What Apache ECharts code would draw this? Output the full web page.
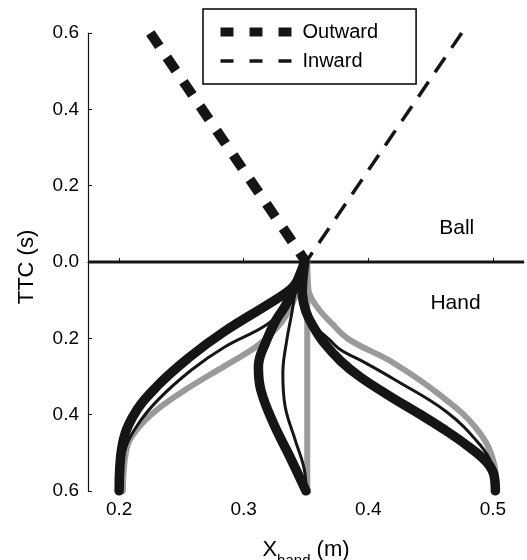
<!DOCTYPE html>
<html><head><meta charset="utf-8">
<script src="https://cdn.jsdelivr.net/npm/echarts@6/dist/echarts.min.js"></script>
<style>html,body{margin:0;padding:0;background:#fff}#c{width:527px;height:560px}</style>
</head><body><div id="c"></div>
<script>
// tick values
const xTicks = [0.2, 0.3, 0.4, 0.5];
const yTicks = [-0.6, -0.4, -0.2, 0, 0.2, 0.4, 0.6];

// ball approach lines [x, TTC]  (positive = ball, above zero)
const ballOutward = [[0.225, 0.6], [0.35, 0]];
const ballInward  = [[0.475, 0.6], [0.35, 0]];
const zeroLine = [[0.175, 0], [0.525, 0]];

// hand trajectories [x, -TTC]
const leftThick = [[0.349,0],[0.343,-0.05],[0.337,-0.073],[0.321,-0.108],[0.284,-0.183],[0.257,-0.248],[0.230,-0.327],[0.211,-0.405],[0.202,-0.49],[0.200,-0.6]];
const leftThin  = [[0.349,0],[0.340,-0.07],[0.332,-0.12],[0.318,-0.165],[0.285,-0.222],[0.258,-0.283],[0.231,-0.362],[0.214,-0.431],[0.204,-0.5],[0.200,-0.6]];
const leftGray  = [[0.350,0],[0.344,-0.07],[0.334,-0.14],[0.323,-0.185],[0.310,-0.222],[0.284,-0.274],[0.257,-0.327],[0.230,-0.388],[0.214,-0.44],[0.206,-0.49],[0.203,-0.6]];
const midThick  = [[0.349,0],[0.340,-0.073],[0.333,-0.117],[0.326,-0.152],[0.3185,-0.204],[0.3118,-0.274],[0.3137,-0.335],[0.3239,-0.423],[0.337,-0.51],[0.350,-0.6]];
const midThin   = [[0.349,0],[0.342,-0.07],[0.3386,-0.134],[0.3346,-0.204],[0.3314,-0.292],[0.3333,-0.379],[0.3413,-0.466],[0.349,-0.55],[0.350,-0.6]];
const midGray   = [[0.351,0],[0.351,-0.6]];
const rightThick = [[0.349,0],[0.347,-0.08],[0.350,-0.13],[0.356,-0.17],[0.364,-0.21],[0.378,-0.26],[0.393,-0.30],[0.416,-0.349],[0.442,-0.40],[0.460,-0.437],[0.479,-0.48],[0.495,-0.524],[0.501,-0.56],[0.502,-0.6]];
const rightThin  = [[0.349,0],[0.350,-0.1],[0.356,-0.161],[0.369,-0.204],[0.3774,-0.229],[0.398,-0.265],[0.420,-0.306],[0.463,-0.393],[0.490,-0.48],[0.499,-0.53],[0.502,-0.6]];
const rightGray  = [[0.351,0],[0.352,-0.073],[0.3587,-0.117],[0.3707,-0.161],[0.385,-0.204],[0.419,-0.262],[0.4577,-0.349],[0.487,-0.437],[0.5006,-0.524],[0.503,-0.6]];

const annotations = [['Ball', 0.471, 0.089], ['Hand', 0.470, -0.107]];

const BLACK = '#151515', GRAY = '#9a9a9a', TXT = '#000000';
const FONT = 'Liberation Sans, Arial, Helvetica, sans-serif';

function hand(data, color, width, name) {
  return { type: 'line', name: name || '', data: data, smooth: 0.4, symbol: 'none', silent: true,
    lineStyle: { color: color, width: width, cap: 'round', join: 'round' }, z: 3 };
}

const chart = echarts.init(document.getElementById('c'), null, { renderer: 'canvas' });
chart.setOption({
  animation: false,
  backgroundColor: '#fff',
  textStyle: { fontFamily: FONT },
  grid: { left: 88, right: 3, top: 33, bottom: 69, containLabel: false, outerBoundsMode: 'none' },
  xAxis: {
    type: 'value', min: 0.175, max: 0.525,
    name: '{a|X}{b|hand}{a| (m)}', nameLocation: 'middle', nameGap: 40,
    nameTextStyle: { rich: { a: { fontSize: 22, color: TXT, fontFamily: FONT },
      b: { fontSize: 15, color: TXT, fontFamily: FONT, padding: [22, 0, 0, 0] } } },
    axisLine: { show: true, lineStyle: { color: BLACK, width: 1.2 } },
    axisTick: { show: true, inside: true, length: 4, customValues: xTicks, lineStyle: { color: BLACK } },
    axisLabel: { customValues: xTicks, fontSize: 19, color: TXT, margin: 9, fontFamily: FONT,
      formatter: v => v.toFixed(1) },
    splitLine: { show: false }
  },
  yAxis: {
    type: 'value', min: -0.6, max: 0.6,
    name: 'TTC (s)', nameLocation: 'middle', nameGap: 50,
    nameTextStyle: { fontSize: 22, color: TXT, fontFamily: FONT, padding: [0, 10, 0, 0] },
    axisLine: { show: true, lineStyle: { color: BLACK, width: 1.2 } },
    axisTick: { show: true, inside: true, length: 4, customValues: yTicks, lineStyle: { color: BLACK } },
    axisLabel: { customValues: yTicks, fontSize: 19, color: TXT, margin: 9, fontFamily: FONT,
      formatter: v => Math.abs(v).toFixed(1) },
    splitLine: { show: false }
  },
  legend: {
    orient: 'vertical', left: 203, top: 9,
    padding: [13, 38, 13, 13], itemGap: 9, itemWidth: 72, itemHeight: 20,
    borderColor: '#000', borderWidth: 1.5, backgroundColor: '#fff',
    textStyle: { fontSize: 20, color: TXT, fontFamily: FONT, padding: [0, 0, 0, 5] },
    itemStyle: { opacity: 0 },
    selectedMode: false,
    data: [
      { name: 'Outward', lineStyle: { width: 9, type: [13, 16], color: BLACK } },
      { name: 'Inward', lineStyle: { width: 3.5, type: [13, 16], color: BLACK } }
    ]
  },
  series: [
    { type: 'line', data: zeroLine, symbol: 'none', silent: true, lineStyle: { color: BLACK, width: 3 }, z: 2 },
    hand(leftGray, GRAY, 6), hand(midGray, GRAY, 6), hand(rightGray, GRAY, 6),
    hand(leftThin, BLACK, 3), hand(midThin, BLACK, 3), hand(rightThin, BLACK, 3),
    hand(leftThick, BLACK, 9.5), hand(midThick, BLACK, 9.5), hand(rightThick, BLACK, 9.5),
    { type: 'line', name: 'Outward', data: ballOutward, symbol: 'none', silent: true, z: 4,
      lineStyle: { color: BLACK, width: 10, type: [16, 13.5], cap: 'butt' } },
    { type: 'line', name: 'Inward', data: ballInward, symbol: 'none', silent: true, z: 4,
      lineStyle: { color: BLACK, width: 3.5, type: [18, 11.5], cap: 'butt' } },
    { type: 'scatter', data: annotations.map(a => ({ name: a[0], value: [a[1], a[2]] })),
      symbolSize: 0, silent: true, z: 5, itemStyle: { opacity: 1 },
      label: { show: true, position: 'inside', formatter: p => p.name, fontSize: 21, color: TXT,
        opacity: 1, fontFamily: FONT } }
  ]
});
</script>
</body></html>
